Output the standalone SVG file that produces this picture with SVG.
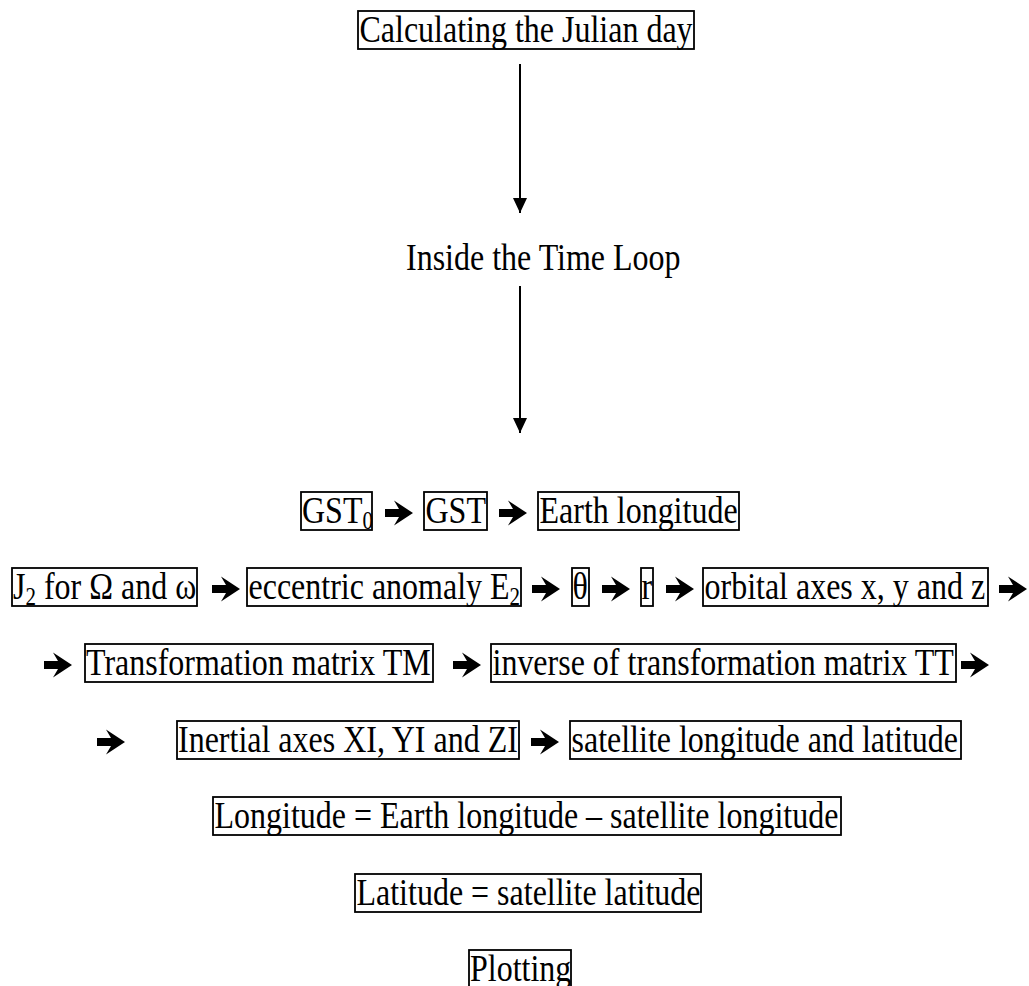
<svg xmlns="http://www.w3.org/2000/svg" xmlns:xlink="http://www.w3.org/1999/xlink" width="1029" height="986" viewBox="0 0 1029 986">
<style>
.bx{fill:none;stroke:#000;stroke-width:1.8}
.t{font-family:"Liberation Serif","Times New Roman",serif;font-size:32px;fill:#000}
.sub{font-size:21px}
.ln{stroke:#000;stroke-width:2;fill:none}
.fa{fill:#000}
</style>
<defs>
<marker id="ah" markerUnits="userSpaceOnUse" markerWidth="16" markerHeight="18" refX="15" refY="7" orient="auto" viewBox="0 0 16 14">
<path d="M0,0 L15,7 L0,14 Z" fill="#000"/>
</marker>
<path id="fat" d="M0,-4 L14,-4 L9,-12.5 L28,0 L9,12.5 L14,4 L0,4 Z"/>
</defs>
<rect width="1029" height="986" fill="#fff"/>

<g id="connectors">
<line class="ln" x1="520" y1="64" x2="520" y2="213" marker-end="url(#ah)"/>
<line class="ln" x1="520" y1="286" x2="520" y2="433" marker-end="url(#ah)"/>
<use xlink:href="#fat" class="fa" x="385" y="513"/>
<use xlink:href="#fat" class="fa" x="499" y="513"/>
<use xlink:href="#fat" class="fa" x="212" y="589"/>
<use xlink:href="#fat" class="fa" x="532" y="589"/>
<use xlink:href="#fat" class="fa" x="602" y="589"/>
<use xlink:href="#fat" class="fa" x="666" y="589"/>
<use xlink:href="#fat" class="fa" x="999" y="589"/>
<use xlink:href="#fat" class="fa" x="44" y="665"/>
<use xlink:href="#fat" class="fa" x="453" y="665"/>
<use xlink:href="#fat" class="fa" x="961" y="665"/>
<use xlink:href="#fat" class="fa" x="97" y="742"/>
<use xlink:href="#fat" class="fa" x="531" y="742"/>
</g>

<g id="julian">
<rect class="bx" x="358" y="11" width="336" height="38"/>
<text class="t" transform="translate(359.5,42) scale(1,1.2)">Calculating the Julian day</text>
</g>

<g id="timeloop">
<text class="t" transform="translate(406,270) scale(1,1.2)">Inside the Time Loop</text>
</g>

<g id="gst0">
<rect class="bx" x="301" y="492" width="71" height="38"/>
<text class="t" transform="translate(302,523) scale(1,1.2)">GST<tspan class="sub" dy="5">0</tspan></text>
</g>
<g id="gst">
<rect class="bx" x="424" y="492" width="63" height="38"/>
<text class="t" transform="translate(425.5,523) scale(1,1.2)">GST</text>
</g>
<g id="earthlon">
<rect class="bx" x="538" y="492" width="201" height="38"/>
<text class="t" transform="translate(539.5,523) scale(1,1.2)">Earth longitude</text>
</g>

<g id="j2">
<rect class="bx" x="12" y="568" width="185" height="38"/>
<text class="t" transform="translate(13,599) scale(1,1.2)">J<tspan class="sub" dy="5">2</tspan><tspan dy="-5"> for Ω and ω</tspan></text>
</g>
<g id="ecc">
<rect class="bx" x="247" y="568" width="274" height="38"/>
<text class="t" transform="translate(248.5,599) scale(1,1.2)">eccentric anomaly E<tspan class="sub" dy="5">2</tspan></text>
</g>
<g id="theta">
<rect class="bx" x="572" y="568" width="17" height="38"/>
<text class="t" transform="translate(572.5,599) scale(1,1.2)">θ</text>
</g>
<g id="r">
<rect class="bx" x="641" y="568" width="12" height="38"/>
<text class="t" transform="translate(641.5,599) scale(1,1.2)">r</text>
</g>
<g id="orbital">
<rect class="bx" x="703" y="568" width="285" height="38"/>
<text class="t" transform="translate(704.5,599) scale(1,1.2)">orbital axes x, y and z</text>
</g>

<g id="tm">
<rect class="bx" x="85" y="644" width="348" height="38"/>
<text class="t" transform="translate(86,675) scale(1,1.2)">Transformation matrix TM</text>
</g>
<g id="tt">
<rect class="bx" x="491" y="644" width="465" height="38"/>
<text class="t" transform="translate(492.5,675) scale(1,1.2)">inverse of transformation matrix TT</text>
</g>

<g id="inertial">
<rect class="bx" x="177" y="721" width="342" height="38"/>
<text class="t" transform="translate(178,752) scale(1,1.2)">Inertial axes XI, YI and ZI</text>
</g>
<g id="satlonlat">
<rect class="bx" x="570" y="721" width="391" height="38"/>
<text class="t" transform="translate(571.5,752) scale(1,1.2)">satellite longitude and latitude</text>
</g>

<g id="longitude">
<rect class="bx" x="213" y="797" width="628" height="38"/>
<text class="t" transform="translate(214.5,828) scale(1,1.2)">Longitude = Earth longitude – satellite longitude</text>
</g>
<g id="latitude">
<rect class="bx" x="355" y="874" width="346" height="38"/>
<text class="t" transform="translate(356.5,905) scale(1,1.2)">Latitude = satellite latitude</text>
</g>
<g id="plotting">
<rect class="bx" x="469" y="950" width="102" height="38"/>
<text class="t" transform="translate(470,981) scale(1,1.2)">Plotting</text>
</g>
</svg>
